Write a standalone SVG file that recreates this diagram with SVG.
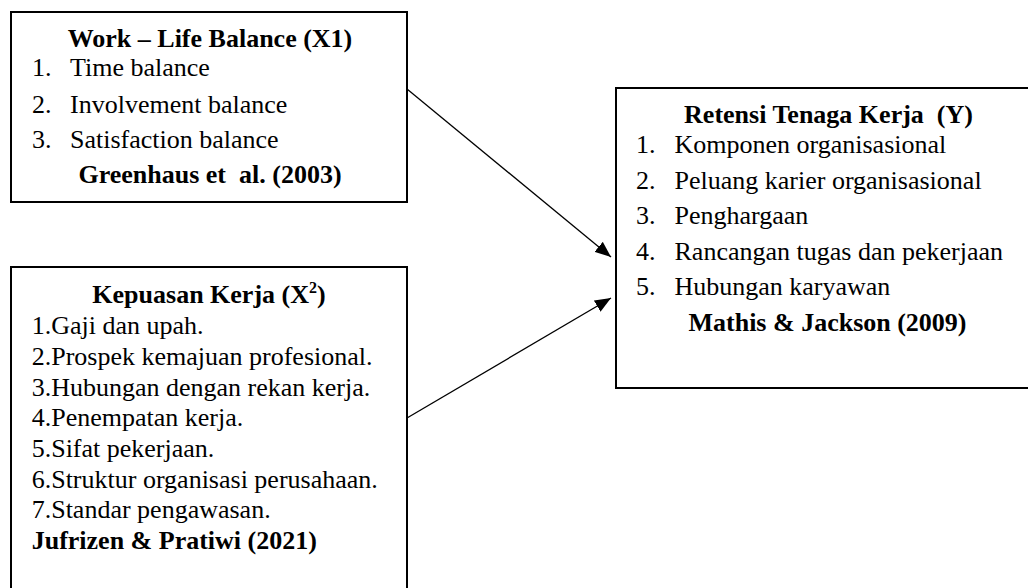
<svg xmlns="http://www.w3.org/2000/svg" width="1028" height="588" viewBox="0 0 1028 588">
<style>
.box{fill:#fff;stroke:#000;stroke-width:2}
.t{font-family:"Liberation Serif","Times New Roman",serif;font-size:26px;fill:#000}
.b{font-weight:bold}
.c{text-anchor:middle}
.pre{white-space:pre}
.conn{stroke:#000;stroke-width:1.3;fill:none}
</style>
<defs>
<marker id="arr" markerUnits="userSpaceOnUse" markerWidth="17" markerHeight="13" refX="16" refY="6.5" orient="auto">
<path d="M0,0 L16,6.5 L0,13 z" fill="#000"/>
</marker>
</defs>
<rect width="1028" height="588" fill="#fff"/>
<g id="node-x1">
<rect class="box" x="11" y="12" width="396" height="190"/>
<text class="t b c" x="210" y="47">Work – Life Balance (X1)</text>
<text class="t" x="32" y="76">1.</text><text class="t" x="70" y="76">Time balance</text>
<text class="t" x="32" y="112.5">2.</text><text class="t" x="70" y="112.5">Involvement balance</text>
<text class="t" x="32" y="148">3.</text><text class="t" x="70" y="148">Satisfaction balance</text>
<text class="t b c pre" x="210" y="183">Greenhaus et  al. (2003)</text>
</g>
<g id="node-x2">
<rect class="box" x="11" y="267" width="396" height="340"/>
<text class="t b c" x="209" y="303">Kepuasan Kerja (X<tspan font-size="16" dy="-10">2</tspan><tspan dy="10">)</tspan></text>
<text class="t" x="31.7" y="334">1.Gaji dan upah.</text>
<text class="t" x="31.7" y="365">2.Prospek kemajuan profesional.</text>
<text class="t" x="31.7" y="395.5">3.Hubungan dengan rekan kerja.</text>
<text class="t" x="31.7" y="426">4.Penempatan kerja.</text>
<text class="t" x="31.7" y="457">5.Sifat pekerjaan.</text>
<text class="t" x="31.7" y="487.5">6.Struktur organisasi perusahaan.</text>
<text class="t" x="31.7" y="518">7.Standar pengawasan.</text>
<text class="t b" x="31.7" y="548.5">Jufrizen &amp; Pratiwi (2021)</text>
</g>
<g id="node-y">
<rect class="box" x="616" y="88" width="420" height="300"/>
<text class="t b c pre" x="828.5" y="123.3">Retensi Tenaga Kerja  (Y)</text>
<text class="t" x="636" y="153.3">1.</text><text class="t" x="674.5" y="153.3">Komponen organisasional</text>
<text class="t" x="636" y="188.5">2.</text><text class="t" x="674.5" y="188.5">Peluang karier organisasional</text>
<text class="t" x="636" y="224">3.</text><text class="t" x="674.5" y="224">Penghargaan</text>
<text class="t" x="636" y="260">4.</text><text class="t" x="674.5" y="260">Rancangan tugas dan pekerjaan</text>
<text class="t" x="636" y="295">5.</text><text class="t" x="674.5" y="295">Hubungan karyawan</text>
<text class="t b c" x="827.5" y="331">Mathis &amp; Jackson (2009)</text>
</g>
<g id="connectors">
<line class="conn" x1="407" y1="89" x2="611" y2="257" marker-end="url(#arr)"/>
<line class="conn" x1="407" y1="418" x2="611" y2="298" marker-end="url(#arr)"/>
</g>
</svg>
